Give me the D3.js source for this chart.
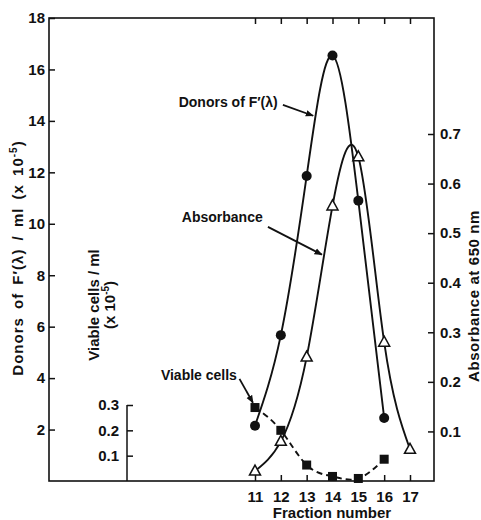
<!DOCTYPE html>
<html>
<head>
<meta charset="utf-8">
<script src="https://cdn.jsdelivr.net/npm/d3@7/dist/d3.min.js"></script>
<style>
  body { margin: 0; background: #fff; }
  text { font-family: "Liberation Sans", Arial, sans-serif; font-weight: bold; fill: #111; }
</style>
</head>
<body>
<div id="chart"></div>
<script>
// --- Data ---
const fractions = [11, 12, 13, 14, 15, 16, 17];
const donorFractions = [11, 12, 13, 14, 15, 16];
const donors = [2.15, 5.67, 11.86, 16.54, 10.9, 2.45];          // x 10^-5 per ml
const absorbance = [0.02, 0.08, 0.25, 0.555, 0.654, 0.28, 0.064]; // A650
const viableFractions = [11, 12, 13, 14, 15, 16];
const viable = [0.29, 0.2, 0.063, 0.018, 0.01, 0.086];           // x 10^-5 per ml
const leftTicks = [2, 4, 6, 8, 10, 12, 14, 16, 18];
const rightTicks = [0.1, 0.2, 0.3, 0.4, 0.5, 0.6, 0.7];
const viableTicks = [0.1, 0.2, 0.3];

const W = 481, H = 520;
const frame = { left: 49, right: 434, top: 18, bottom: 481 };

const svg = d3.select("#chart").append("svg")
  .attr("width", W).attr("height", H);

// --- Scales ---
const x = d3.scaleLinear().domain([11, 17]).range([255, 410]);
const yLeft = d3.scaleLinear().domain([0, 18]).range([frame.bottom, frame.top]);
const yRight = d3.scaleLinear().domain([0, 0.7]).range([frame.bottom, 134]);
const yViable = d3.scaleLinear().domain([0, 0.3]).range([frame.bottom, 405]);

// --- Frame ---
svg.append("rect")
  .attr("x", frame.left).attr("y", frame.top)
  .attr("width", frame.right - frame.left)
  .attr("height", frame.bottom - frame.top)
  .attr("fill", "none").attr("stroke", "#111").attr("stroke-width", 1.6);

function styleAxis(g) {
  g.select(".domain").remove();
  g.selectAll(".tick line").attr("stroke", "#111").attr("stroke-width", 1.5);
  g.selectAll(".tick text").attr("font-size", 15).attr("fill", "#111");
}

// left axis
svg.append("g").attr("transform", `translate(${frame.left},0)`)
  .call(d3.axisLeft(yLeft).tickValues(leftTicks).tickSize(-6).tickPadding(4).tickFormat(d3.format("d")))
  .call(styleAxis);

// right axis
svg.append("g").attr("transform", `translate(${frame.right},0)`)
  .call(d3.axisRight(yRight).tickValues(rightTicks).tickSize(-6).tickPadding(6).tickFormat(d3.format(".1f")))
  .call(styleAxis);

// bottom axis
svg.append("g").attr("transform", `translate(0,${frame.bottom})`)
  .call(d3.axisBottom(x).tickValues(fractions).tickSize(-6).tickPadding(10).tickFormat(d3.format("d")))
  .call(styleAxis);

// top ticks
svg.append("g").attr("transform", `translate(0,${frame.top})`)
  .call(d3.axisTop(x).tickValues(fractions).tickSize(-6).tickFormat(""))
  .call(styleAxis);

// small viable-cells axis
const vAxisX = 127;
svg.append("line")
  .attr("x1", vAxisX).attr("x2", vAxisX)
  .attr("y1", yViable(0.3)).attr("y2", frame.bottom)
  .attr("stroke", "#111").attr("stroke-width", 1.5);
svg.append("g").attr("transform", `translate(${vAxisX},0)`)
  .call(d3.axisLeft(yViable).tickValues(viableTicks).tickSize(-6).tickPadding(8).tickFormat(d3.format(".1f")))
  .call(styleAxis);

// --- Curves ---
const curveLine = d3.line().curve(d3.curveNatural);

svg.append("path")
  .attr("d", curveLine(donorFractions.map((f, i) => [x(f), yLeft(donors[i])])))
  .attr("fill", "none").attr("stroke", "#111").attr("stroke-width", 1.9);

svg.append("path")
  .attr("d", curveLine(fractions.map((f, i) => [x(f), yRight(absorbance[i])])))
  .attr("fill", "none").attr("stroke", "#111").attr("stroke-width", 1.9);

svg.append("path")
  .attr("d", curveLine(viableFractions.map((f, i) => [x(f), yViable(viable[i])])))
  .attr("fill", "none").attr("stroke", "#111").attr("stroke-width", 1.9)
  .attr("stroke-dasharray", "6,4");

// --- Markers ---
svg.append("g").selectAll("circle")
  .data(donorFractions.map((f, i) => [f, donors[i]]))
  .join("circle")
  .attr("cx", d => x(d[0])).attr("cy", d => yLeft(d[1]))
  .attr("r", 5).attr("fill", "#111");

svg.append("g").selectAll("path")
  .data(fractions.map((f, i) => [f, absorbance[i]]))
  .join("path")
  .attr("transform", d => `translate(${x(d[0])},${yRight(d[1])})`)
  .attr("d", "M0,-6L5.5,4L-5.5,4Z")
  .attr("fill", "#fff").attr("stroke", "#111").attr("stroke-width", 1.5);

svg.append("g").selectAll("rect")
  .data(viableFractions.map((f, i) => [f, viable[i]]))
  .join("rect")
  .attr("x", d => x(d[0]) - 4.5).attr("y", d => yViable(d[1]) - 4.5)
  .attr("width", 9).attr("height", 9).attr("fill", "#111");

// --- Axis titles ---
function sup(t, base, exp, tail) {
  t.append("tspan").text(base);
  t.append("tspan").attr("dy", -6).attr("font-size", 10).text(exp);
  t.append("tspan").attr("dy", 6).text(tail);
}

const leftTitle = svg.append("text")
  .attr("transform", "translate(23,258) rotate(-90)")
  .attr("text-anchor", "middle").attr("font-size", 15)
  .attr("letter-spacing", 1).attr("word-spacing", 3);
sup(leftTitle, "Donors of F\u2032(\u03bb) / ml (x 10", "-5", ")");

svg.append("text")
  .attr("transform", "translate(99,305) rotate(-90)")
  .attr("text-anchor", "middle").attr("font-size", 15)
  .text("Viable cells / ml");
const vt2 = svg.append("text")
  .attr("transform", "translate(115,305) rotate(-90)")
  .attr("text-anchor", "middle").attr("font-size", 15);
sup(vt2, "(x 10", "-5", ")");

svg.append("text")
  .attr("transform", "translate(479,296) rotate(-90)")
  .attr("text-anchor", "middle").attr("font-size", 15)
  .attr("letter-spacing", 0.6)
  .text("Absorbance at 650 nm");

svg.append("text")
  .attr("x", 332).attr("y", 518)
  .attr("text-anchor", "middle").attr("font-size", 15)
  .text("Fraction number");

// --- Annotations (positions in data units on the left scale) ---
svg.append("defs").append("marker")
  .attr("id", "head").attr("viewBox", "0 0 10 10")
  .attr("refX", 9).attr("refY", 5)
  .attr("markerWidth", 4.5).attr("markerHeight", 4.5)
  .attr("orient", "auto-start-reverse")
  .append("path").attr("d", "M0,1L10,5L0,9Z").attr("fill", "#111");

const notes = [
  { label: "Donors of F\u2032(\u03bb)", tx: 11.88, ty: 14.55, from: [12.08, 14.62], to: [13.25, 14.2] },
  { label: "Absorbance", tx: 11.3, ty: 10.05, from: [11.5, 9.88], to: [13.59, 8.8] },
  { label: "Viable cells", tx: 10.3, ty: 3.93, from: [10.4, 3.97], to: [10.92, 3.04] }
];

const ann = svg.append("g");
ann.selectAll("text").data(notes).join("text")
  .attr("x", d => x(d.tx)).attr("y", d => yLeft(d.ty))
  .attr("text-anchor", "end").attr("font-size", 14)
  .text(d => d.label);
ann.selectAll("line").data(notes).join("line")
  .attr("x1", d => x(d.from[0])).attr("y1", d => yLeft(d.from[1]))
  .attr("x2", d => x(d.to[0])).attr("y2", d => yLeft(d.to[1]))
  .attr("stroke", "#111").attr("stroke-width", 1.8)
  .attr("marker-end", "url(#head)");
</script>
</body>
</html>
